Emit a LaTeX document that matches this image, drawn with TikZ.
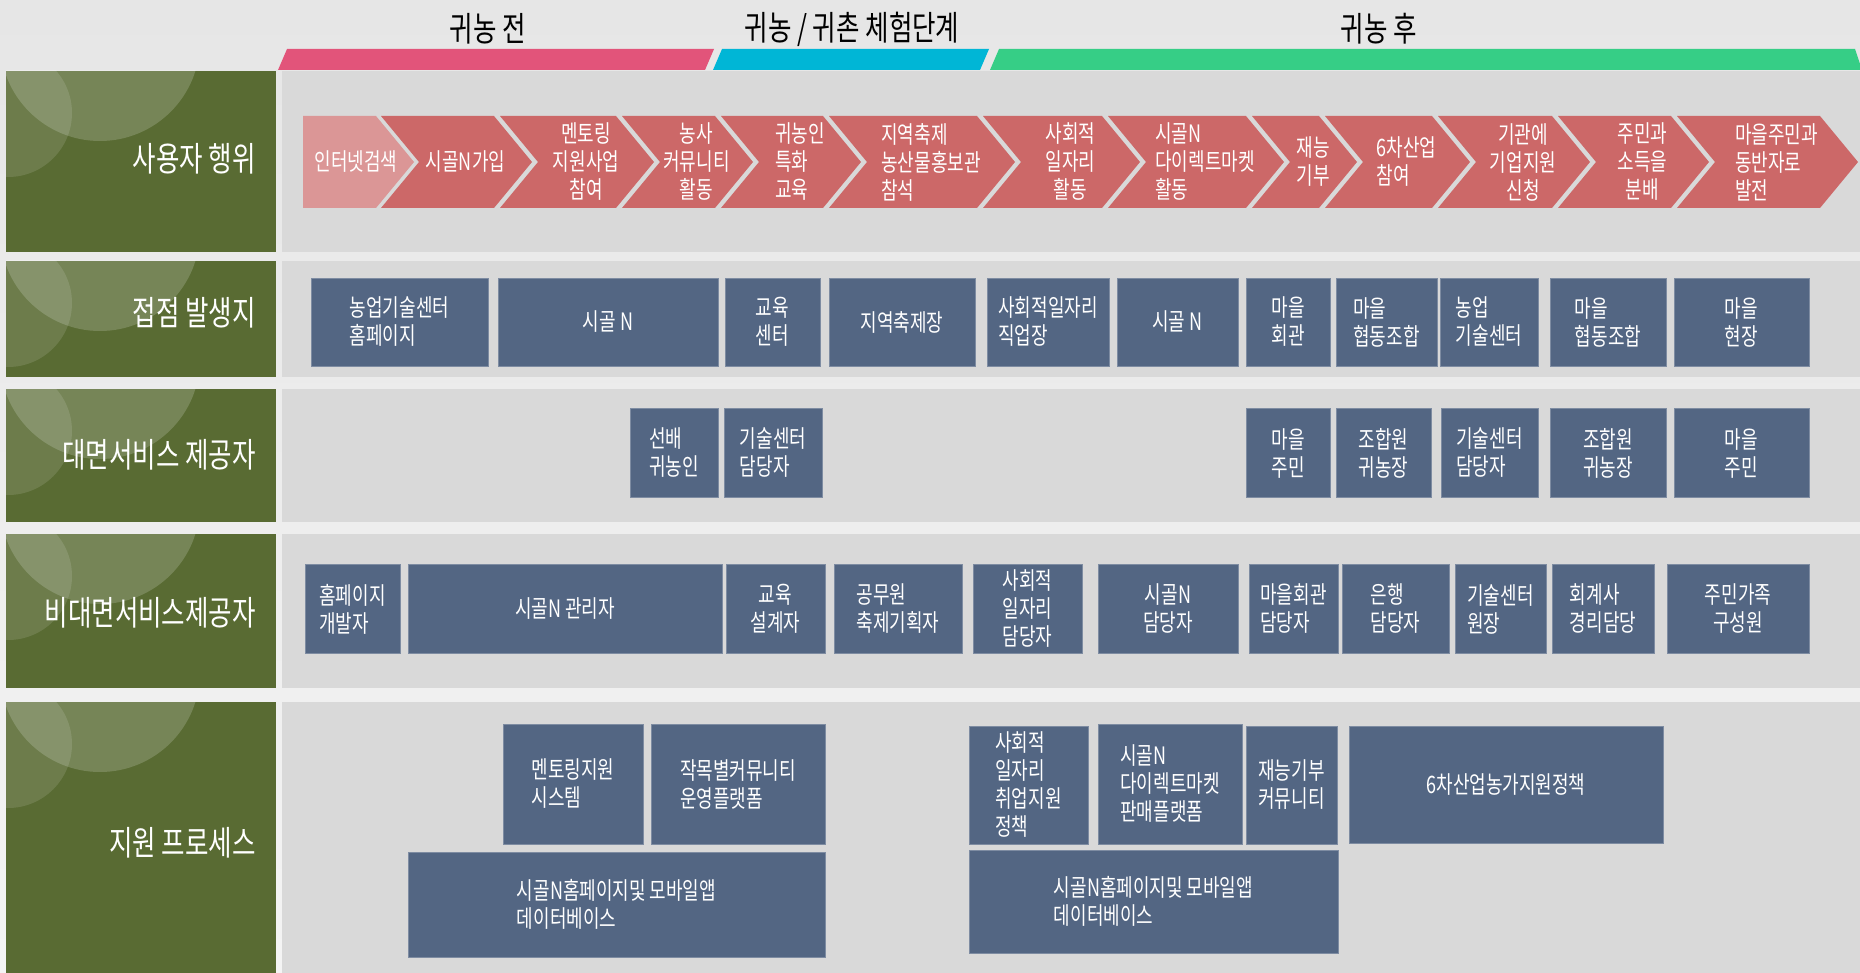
\documentclass[tikz,border=0pt]{standalone}
\usepackage{fontspec}
\setmainfont{Noto Sans CJK KR}[FakeStretch=0.75]
\usepackage{tikz}
\definecolor{bgtop}{RGB}{230,230,230}
\definecolor{bgbot}{RGB}{244,244,244}
\definecolor{panel}{RGB}{217,217,217}
\definecolor{olive}{RGB}{89,107,51}
\definecolor{slate}{RGB}{83,102,131}
\definecolor{chev}{RGB}{204,104,104}
\definecolor{chevlight}{RGB}{219,150,150}
\definecolor{barpink}{RGB}{226,84,122}
\definecolor{barcyan}{RGB}{0,182,214}
\definecolor{bargreen}{RGB}{54,206,134}

\begin{document}
\begin{tikzpicture}[
    x=1pt,y=-1pt,
    blk/.style = {draw=slate!75!white,fill=slate,text=white,inner sep=0pt,
      font=\fontsize{24}{28}\selectfont},
    chtxt/.style = {text=white,inner sep=0pt,font=\fontsize{24}{28}\selectfont},
    lbl/.style = {text=white,anchor=east,inner sep=0pt,font=\fontsize{34}{40}\selectfont},
    hd/.style = {inner sep=0pt,font=\fontsize{34}{40}\selectfont}
    ]
    \useasboundingbox (0,0) rectangle (1860,973);
    \fill[top color=bgtop,bottom color=bgbot] (0,0) rectangle (1860,973);
    % Rows
    \foreach \r/\ya/\yb in {1/71/252, 2/261/377, 3/389/522, 4/534/688, 5/702/973} {
      \fill[panel] (282,\ya) rectangle (1860,\yb);
      \fill[olive] (6,\ya) rectangle (276,\yb);
      \begin{scope}
        \clip (6,\ya) rectangle (276,\yb);
        \fill[white,opacity=.18] (100,\ya-30) circle[radius=100pt];
        \fill[white,opacity=.12] (8,\ya+42) circle[radius=64pt];
      \end{scope}
    }
    \node[lbl] (l1) at (256,159) {사용자 행위};
    \node[lbl] (l2) at (256,313) {접점 발생지};
    \node[lbl] (l3) at (256,455) {대면서비스 제공자};
    \node[lbl] (l4) at (256,613) {비대면서비스제공자};
    \node[lbl] (l5) at (256,843) {지원 프로세스};
    % Phases
    \fill[barpink] (287,49) -- (714,49) -- (705,70) -- (278,70) -- cycle;
    \fill[barcyan] (722,49) -- (989,49) -- (980,70) -- (713,70) -- cycle;
    \fill[bargreen] (999,49) -- (1855,49) -- (1862,70) -- (990,70) -- cycle;
    \node[hd] (h1) at (488,29) {귀농 전};
    \node[hd] (h2) at (852,29) {귀농 / 귀촌 체험단계};
    \node[hd] (h3) at (1379,29) {귀농 후};
    % Chevrons
    \fill[chevlight] (303,116) -- (376,116) -- (414,162) -- (376,208) -- (303,208) -- cycle;
    \node[chtxt] (c1) at (356,162) {인터넷검색};
    \foreach \n/\xa/\xb/\al/\txt in {
        2/381/494/center/{시골N가입},
        3/500/616/center/{멘토링\\지원사업\\참여},
        4/622/715/center/{농사\\커뮤니티\\활동},
        5/721/823/left/{귀농인\\특화\\교육},
        6/829/977/left/{지역축제\\농산물홍보관\\참석},
        7/983/1102/center/{사회적\\일자리\\활동},
        8/1108/1246/left/{시골N\\다이렉트마켓\\활동},
        9/1252/1319/center/{재능\\기부},
        10/1325/1432/left/{6차산업\\참여},
        11/1438/1552/center/{기관에\\기업지원\\신청},
        12/1558/1671/center/{주민과\\소득을\\분배},
        13/1677/1820/left/{마을주민과\\동반자로\\발전}} {
      \fill[chev] (\xa,116) -- (\xb,116) -- (\xb+38,162) -- (\xb,208) -- (\xa,208) -- (\xa+38,162) -- cycle;
      \node[chtxt,align=\al] (c\n) at ({(\xa+\xb)/2+28},162) {\txt};
    }
    % Touch points
    \foreach \n/\xa/\xb/\al/\txt in {
        1/311/488/left/{농업기술센터\\홈페이지},
        2/498/718/center/{시골 N},
        3/725/820/center/{교육\\센터},
        4/829/975/center/{지역축제장},
        5/987/1109/left/{사회적일자리\\직업장},
        6/1117/1238/center/{시골 N},
        7/1246/1330/center/{마을\\회관},
        8/1336/1437/left/{마을\\협동조합},
        9/1440/1538/left/{농업\\기술센터},
        10/1550/1666/left/{마을\\협동조합},
        11/1674/1809/center/{마을\\현장}}
      \node[blk,align=\al,minimum width={\xb-\xa},minimum height=88] (t\n) at ({(\xa+\xb)/2},322) {\txt};
    % Face-to-face providers
    \foreach \n/\xa/\xb/\al/\txt in {
        1/630/718/left/{선배\\귀농인},
        2/724/822/left/{기술센터\\담당자},
        3/1246/1330/center/{마을\\주민},
        4/1336/1431/center/{조합원\\귀농장},
        5/1441/1538/left/{기술센터\\담당자},
        6/1550/1666/center/{조합원\\귀농장},
        7/1674/1809/center/{마을\\주민}}
      \node[blk,align=\al,minimum width={\xb-\xa},minimum height=89] (f\n) at ({(\xa+\xb)/2},453) {\txt};
    % Non-face-to-face providers
    \foreach \n/\xa/\xb/\al/\txt in {
        1/305/400/left/{홈페이지\\개발자},
        2/408/722/center/{시골N 관리자},
        3/726/825/center/{교육\\설계자},
        4/834/962/left/{공무원\\축제기획자},
        5/973/1082/center/{사회적\\일자리\\담당자},
        6/1098/1238/center/{시골N\\담당자},
        7/1249/1338/left/{마을회관\\담당자},
        8/1342/1449/left/{은행\\담당자},
        9/1455/1546/left/{기술센터\\원장},
        10/1552/1654/left/{회계사\\경리담당},
        11/1667/1809/center/{주민가족\\구성원}}
      \node[blk,align=\al,minimum width={\xb-\xa},minimum height=89] (n\n) at ({(\xa+\xb)/2},609) {\txt};
    % Support process
    \foreach \n/\xa/\xb/\ya/\yb/\al/\txt in {
        1/503/643/724/844/left/{멘토링지원\\시스템},
        2/651/825/724/844/left/{작목별커뮤니티\\운영플랫폼},
        3/408/825/852/957/left/{시골N홈페이지및 모바일앱\\데이터베이스},
        4/969/1088/726/844/left/{사회적\\일자리\\취업지원\\정책},
        5/1098/1242/724/844/left/{시골N\\다이렉트마켓\\판매플랫폼},
        6/1246/1337/726/844/left/{재능기부\\커뮤니티},
        7/1349/1663/726/843/center/{6차산업농가지원정책},
        8/969/1338/850/953/left/{시골N홈페이지및 모바일앱\\데이터베이스}}
      \node[blk,align=\al,minimum width={\xb-\xa},minimum height={\yb-\ya}] (s\n) at ({(\xa+\xb)/2},{(\ya+\yb)/2}) {\txt};
\end{tikzpicture}
\end{document}
